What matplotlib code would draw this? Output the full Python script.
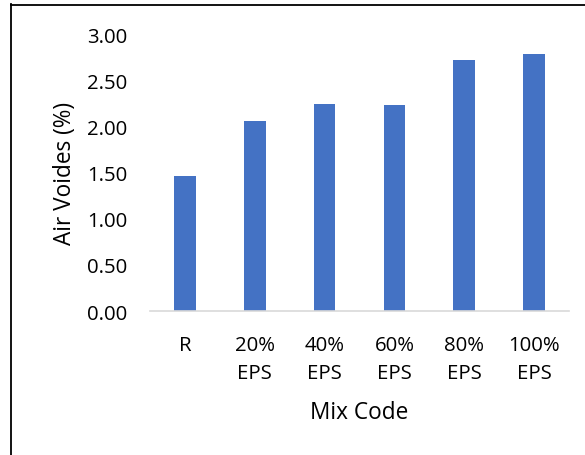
import matplotlib
matplotlib.use("Agg")
import matplotlib.pyplot as plt
from matplotlib.lines import Line2D

# air voids per mix
mix_codes = ["R", "20%\nEPS", "40%\nEPS", "60%\nEPS", "80%\nEPS", "100%\nEPS"]
air_voids = [1.46, 2.06, 2.24, 2.23, 2.72, 2.78]
y_ticks = [0.0, 0.5, 1.0, 1.5, 2.0, 2.5, 3.0]

plt.rcParams['font.family'] = ['Open Sans', 'DejaVu Sans']

fig = plt.figure(figsize=(5.85, 4.56), dpi=100)
ax = fig.add_axes([150 / 585, 1 - 312 / 456, 419 / 585, 277 / 456])

x = range(len(mix_codes))
ax.bar(x, air_voids, width=0.31, color="#4472C4", zorder=2)

ax.set_xlim(-0.5, len(mix_codes) - 0.5)
ax.set_ylim(0, 3.0)
ax.set_yticks(y_ticks)
ax.set_yticklabels([f"{v:.2f}" for v in y_ticks])
ax.set_xticks(list(x))
ax.set_xticklabels(mix_codes, linespacing=1.55)

for side in ["top", "right", "left"]:
    ax.spines[side].set_visible(False)
ax.spines["bottom"].set_color("#D9D9D9")
ax.spines["bottom"].set_linewidth(1.2)

ax.tick_params(axis="both", length=0, labelsize=14.7, colors="black")
ax.tick_params(axis="y", pad=16.5)
ax.tick_params(axis="x", pad=17)

ax.set_ylabel("Air Voides (%)", fontsize=16.3, labelpad=7)
ax.set_xlabel("Mix Code", fontsize=16.3, labelpad=12)

# frame around the figure (top and left edges)
fig.add_artist(Line2D([11 / 585, 11 / 585], [0, 1 - 5 / 456],
                      transform=fig.transFigure, color="black", lw=1.3))
fig.add_artist(Line2D([11 / 585, 1], [1 - 5.5 / 456, 1 - 5.5 / 456],
                      transform=fig.transFigure, color="black", lw=1.3))

fig.savefig("out.png", dpi=100)
